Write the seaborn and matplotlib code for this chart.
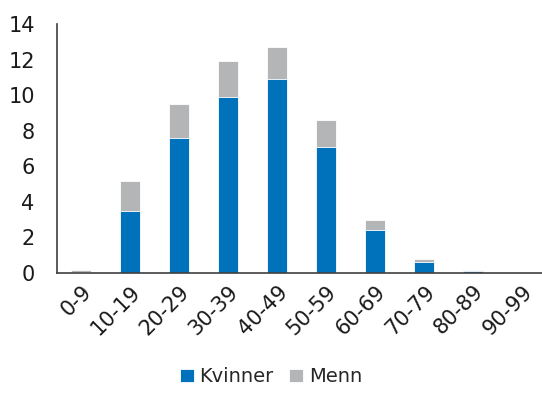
import numpy as np
import pandas as pd
import matplotlib
matplotlib.use("Agg")
import matplotlib.pyplot as plt
import seaborn as sns

# data
aldersgrupper = ["0-9", "10-19", "20-29", "30-39", "40-49",
                 "50-59", "60-69", "70-79", "80-89", "90-99"]
kvinner = [0.08, 3.5, 7.6, 9.9, 10.9, 7.1, 2.4, 0.6, 0.1, 0.0]
menn = [0.1, 1.7, 1.9, 2.0, 1.8, 1.5, 0.6, 0.2, 0.05, 0.0]

blue = "#0072BC"
grey = "#B4B5B7"

df = pd.DataFrame({"Alder": aldersgrupper, "Kvinner": kvinner, "Menn": menn})
df["Totalt"] = df["Kvinner"] + df["Menn"]

sns.set_style("white")
plt.rcParams["font.family"] = ["DejaVu Sans"]

fig = plt.figure(figsize=(5.42, 3.94), dpi=100)
ax = fig.add_axes([0.105, 0.307, 0.895, 0.632])

# stacked: total in grey behind, women in blue in front
sns.barplot(data=df, x="Alder", y="Totalt", color=grey, width=0.41,
            edgecolor="white", linewidth=0.6, saturation=1, ax=ax, label="Menn")
sns.barplot(data=df, x="Alder", y="Kvinner", color=blue, width=0.41,
            edgecolor="white", linewidth=0.6, saturation=1, ax=ax, label="Kvinner")

ax.set_ylim(0, 14)
ax.set_xlim(-0.5, 9.4)
ax.set_yticks(range(0, 15, 2))
ax.set_xlabel("")
ax.set_ylabel("")
ax.tick_params(axis="both", length=0, labelsize=15, colors="#1a1a1a")
ax.tick_params(axis="y", pad=16)
ax.tick_params(axis="x", pad=6)
plt.setp(ax.get_xticklabels(), rotation=45, ha="right", rotation_mode="anchor")

for side in ["top", "right"]:
    ax.spines[side].set_visible(False)
for side in ["left", "bottom"]:
    ax.spines[side].set_color("#404040")
    ax.spines[side].set_linewidth(1.2)

handles, labels = ax.get_legend_handles_labels()
order = [labels.index("Kvinner"), labels.index("Menn")]
ax.legend([handles[i] for i in order], [labels[i] for i in order],
          loc="lower center", bbox_to_anchor=(0.5, -0.025), bbox_transform=fig.transFigure,
          ncol=2, frameon=False, fontsize=14, handlelength=0.7, handleheight=0.7,
          handletextpad=0.3, columnspacing=0.8)

fig.savefig("out.png", dpi=100)
